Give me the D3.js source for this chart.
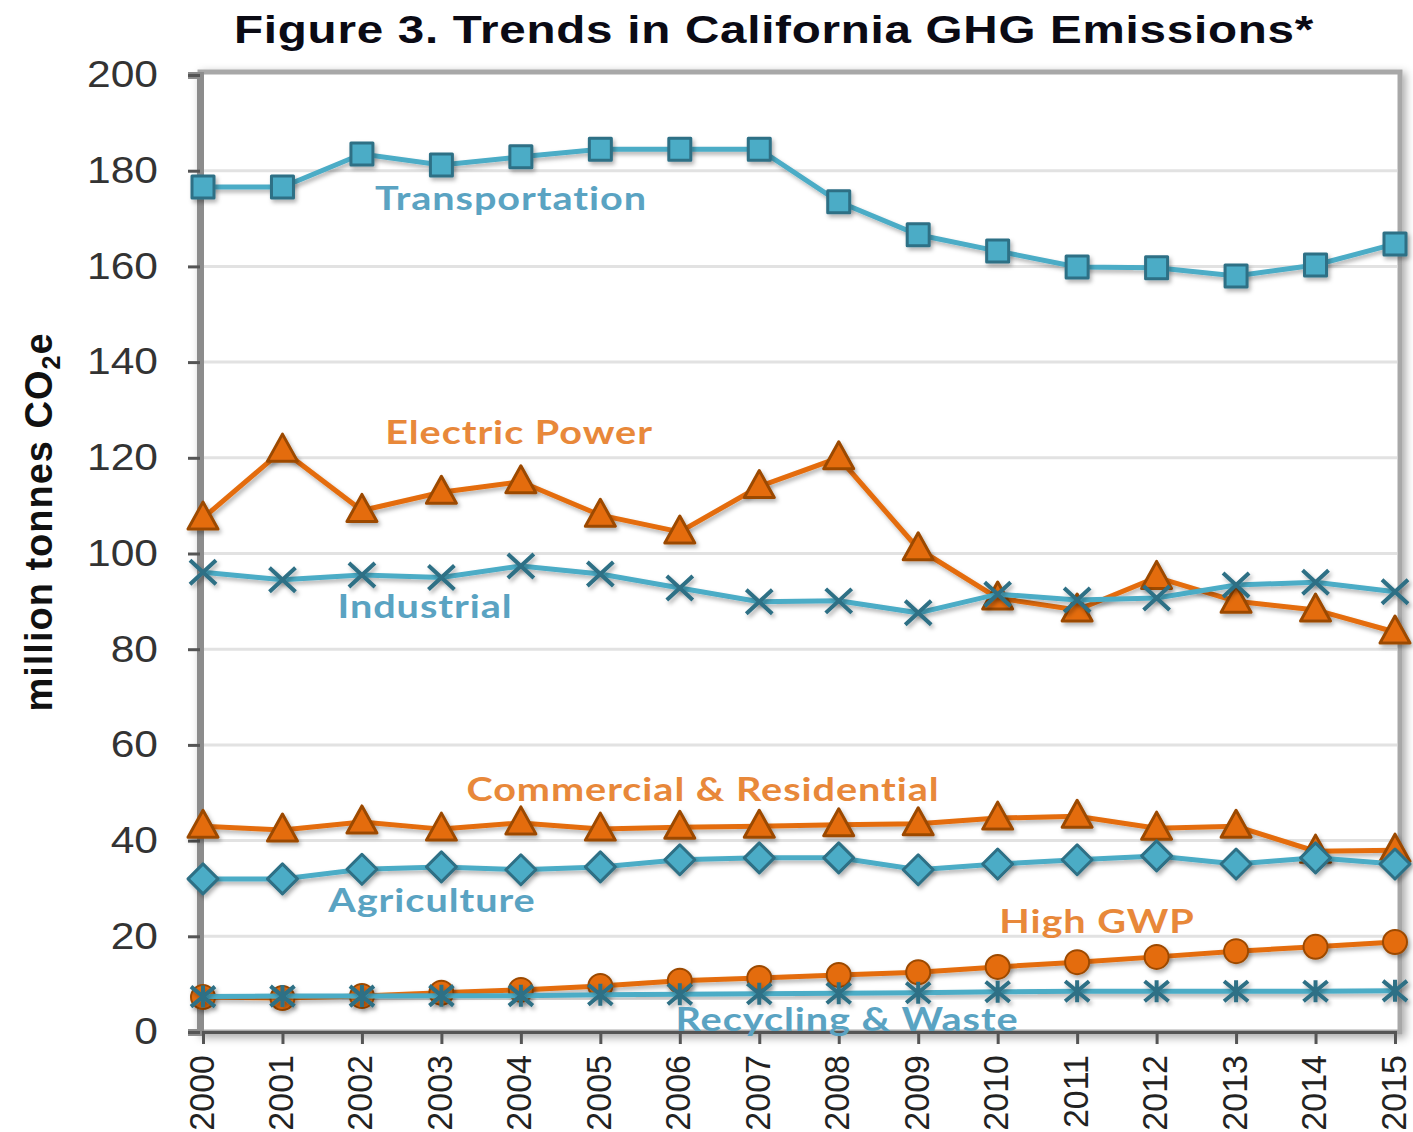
<!DOCTYPE html>
<html>
<head>
<script src="https://d3js.org/d3.v7.min.js"></script>
<style>
  body { margin: 0; background: #fff; }
  svg { display: block; }
</style>
</head>
<body>
<svg id="svg"></svg>
<script>
// data (million tonnes CO2e)
const years = [2000, 2001, 2002, 2003, 2004, 2005, 2006, 2007, 2008, 2009, 2010, 2011, 2012, 2013, 2014, 2015];
const transportation = [176.6, 176.6, 183.5, 181.2, 182.9, 184.5, 184.5, 184.5, 173.5, 166.6, 163.2, 159.9, 159.7, 158.0, 160.3, 164.7];
const electricPower = [107.4, 121.6, 109.0, 112.8, 115.0, 108.0, 104.5, 114.0, 120.0, 101.0, 90.7, 88.2, 95.0, 90.0, 88.2, 83.6];
const industrial = [96.1, 94.5, 95.5, 95.0, 97.4, 95.7, 92.8, 89.9, 90.1, 87.6, 91.5, 90.3, 90.7, 93.4, 94.0, 92.0];
const commercial = [43.0, 42.2, 43.9, 42.4, 43.7, 42.4, 42.8, 43.0, 43.3, 43.5, 44.7, 45.1, 42.6, 43.0, 37.8, 38.0];
const agriculture = [32.0, 32.0, 34.0, 34.5, 33.9, 34.5, 36.0, 36.4, 36.4, 33.9, 35.1, 36.0, 36.8, 35.1, 36.4, 35.1];
const highGWP = [7.3, 7.1, 7.5, 8.2, 8.8, 9.6, 10.7, 11.3, 11.9, 12.5, 13.6, 14.6, 15.7, 16.9, 17.8, 18.8];
const recycling = [7.4, 7.5, 7.5, 7.6, 7.6, 7.8, 7.9, 8.0, 8.1, 8.2, 8.4, 8.5, 8.5, 8.5, 8.5, 8.6];
const yTicks = [0, 20, 40, 60, 80, 100, 120, 140, 160, 180, 200];

const BLUE = "#4bacc6", BLUE_DARK = "#2d6f85", BLUE_TEXT = "#5aa3c2";
const ORANGE = "#e46c0a", ORANGE_DARK = "#9c4a06", ORANGE_TEXT = "#e8883a";

const series = [
  { name: "Transportation", values: transportation, color: BLUE, dark: BLUE_DARK, marker: "square", lx: 511, ly: 198, tc: BLUE_TEXT },
  { name: "Electric Power", values: electricPower, color: ORANGE, dark: ORANGE_DARK, marker: "triangle", lx: 519, ly: 432, tc: ORANGE_TEXT },
  { name: "Industrial", values: industrial, color: BLUE, dark: BLUE_DARK, marker: "x", lx: 425, ly: 606, tc: BLUE_TEXT },
  { name: "Commercial & Residential", values: commercial, color: ORANGE, dark: ORANGE_DARK, marker: "triangle", lx: 703, ly: 789, tc: ORANGE_TEXT },
  { name: "Agriculture", values: agriculture, color: BLUE, dark: BLUE_DARK, marker: "diamond", lx: 432, ly: 900, tc: BLUE_TEXT },
  { name: "High GWP", values: highGWP, color: ORANGE, dark: ORANGE_DARK, marker: "circle", lx: 1097, ly: 921, tc: ORANGE_TEXT },
  { name: "Recycling & Waste", values: recycling, color: BLUE, dark: BLUE_DARK, marker: "star", lx: 847, ly: 1019, tc: BLUE_TEXT }
];

const width = 1413, height = 1132;
const svg = d3.select("#svg").attr("width", width).attr("height", height);

const defs = svg.append("defs");
const sh = defs.append("filter").attr("id", "shadow").attr("x", "-50%").attr("y", "-50%").attr("width", "200%").attr("height", "200%");
sh.append("feDropShadow").attr("dx", 2).attr("dy", 3).attr("stdDeviation", 2).attr("flood-color", "#000").attr("flood-opacity", 0.3);
const fr = defs.append("filter").attr("id", "frameShadow").attr("x", "-5%").attr("y", "-5%").attr("width", "110%").attr("height", "110%");
fr.append("feDropShadow").attr("dx", 3).attr("dy", 3).attr("stdDeviation", 4).attr("flood-color", "#000").attr("flood-opacity", 0.35);

const x = d3.scaleLinear().domain([2000, 2015]).range([203, 1395]);
const y = d3.scaleLinear().domain([0, 200]).range([1032, 75]);

// title (the source picture is stretched sideways, so the text is too)
svg.append("text")
  .attr("transform", "translate(774,43) scale(1.22,1)")
  .attr("text-anchor", "middle")
  .attr("font-family", "Liberation Sans, Arial, sans-serif")
  .attr("font-weight", "bold").attr("font-size", 39)
  .attr("letter-spacing", 0.6)
  .attr("fill", "#0a0a14")
  .text("Figure 3. Trends in California GHG Emissions*");

// plot frame
svg.append("rect")
  .attr("x", 200).attr("y", 72).attr("width", 1200).attr("height", 960)
  .attr("fill", "#fff").attr("stroke", "#a8a8a8").attr("stroke-width", 5)
  .attr("filter", "url(#frameShadow)");

// gridlines
svg.append("g").selectAll("line")
  .data(yTicks.filter(d => d > 0 && d < 200))
  .join("line")
  .attr("x1", 204).attr("x2", 1397)
  .attr("y1", d => y(d)).attr("y2", d => y(d))
  .attr("stroke", "#e2e2e2").attr("stroke-width", 3);

// y axis
const yAxis = svg.append("g")
  .attr("transform", "translate(200,0)")
  .call(d3.axisLeft(y).tickValues(yTicks).tickSize(12));
yAxis.select(".domain").attr("stroke", "#8c8c8c").attr("stroke-width", 7);
yAxis.selectAll(".tick line").attr("stroke", "#555").attr("stroke-width", 3);
yAxis.selectAll(".tick text")
  .attr("x", 0)
  .attr("transform", "translate(-42,0) scale(1.15,1)")
  .attr("font-family", "Liberation Sans, Arial, sans-serif")
  .attr("font-size", 37).attr("fill", "#333");

// x axis
const xAxis = svg.append("g")
  .attr("transform", "translate(0,1032)")
  .call(d3.axisBottom(x).tickValues(years).tickFormat(d3.format("d")).tickSize(12).tickPadding(10));
xAxis.select(".domain").attr("stroke", "#555").attr("stroke-width", 3);
xAxis.selectAll(".tick line").attr("stroke", "#555").attr("stroke-width", 3);
xAxis.selectAll(".tick text")
  .attr("font-family", "Liberation Sans, Arial, sans-serif")
  .attr("font-size", 34).attr("fill", "#222")
  .attr("transform", "rotate(-90) scale(1,1.05)")
  .attr("text-anchor", "end")
  .attr("x", -23).attr("y", 0).attr("dy", "0.28em");

// y axis title
const yt = svg.append("text")
  .attr("transform", "translate(52,522) rotate(-90)")
  .attr("text-anchor", "middle")
  .attr("font-family", "Liberation Sans, Arial, sans-serif")
  .attr("font-weight", "bold").attr("font-size", 38).attr("letter-spacing", 1).attr("fill", "#111");
yt.append("tspan").text("million tonnes CO");
yt.append("tspan").attr("font-size", 25).attr("dy", 8).text("2");
yt.append("tspan").attr("dy", -8).text("e");

// markers
function markerPath(type) {
  if (type === "square") return "M-11,-11H11V11H-11Z";
  if (type === "triangle") return "M0,-16L15,11H-15Z";
  if (type === "diamond") return "M0,-15L15,0L0,15L-15,0Z";
  return null;
}

const line = d3.line().x((d, i) => x(years[i])).y(d => y(d));

series.forEach(s => {
  const g = svg.append("g");
  g.append("path")
    .datum(s.values)
    .attr("d", line)
    .attr("fill", "none")
    .attr("stroke", s.color)
    .attr("stroke-width", 5)
    .attr("filter", "url(#shadow)");

  const pts = g.selectAll("g.pt")
    .data(s.values)
    .join("g")
    .attr("class", "pt")
    .attr("transform", (d, i) => `translate(${x(years[i])},${y(d)})`)
    .attr("filter", "url(#shadow)");

  if (s.marker === "circle") {
    pts.append("circle").attr("r", 12)
      .attr("fill", s.color).attr("stroke", s.dark).attr("stroke-width", 2);
  } else if (s.marker === "x") {
    pts.append("path").attr("d", "M-13,-12L13,12M-13,12L13,-12")
      .attr("stroke", s.dark).attr("stroke-width", 4).attr("fill", "none");
  } else if (s.marker === "star") {
    pts.append("path").attr("d", "M-12,-10L12,10M-12,10L12,-10M0,-11V11")
      .attr("stroke", s.dark).attr("stroke-width", 4).attr("fill", "none");
  } else {
    pts.append("path").attr("d", markerPath(s.marker))
      .attr("fill", s.color).attr("stroke", s.dark).attr("stroke-width", 3)
      .attr("stroke-linejoin", "round");
  }
});

// series labels
svg.append("g").selectAll("text")
  .data(series)
  .join("text")
  .attr("transform", d => `translate(${d.lx},${d.ly}) scale(1.2,1)`)
  .attr("text-anchor", "middle").attr("dy", "0.35em")
  .attr("font-family", "Lato, Open Sans, sans-serif")
  .attr("font-weight", "bold").attr("font-size", 33)
  .attr("letter-spacing", 0.8)
  .attr("fill", d => d.tc)
  .text(d => d.name);
</script>
</body>
</html>
